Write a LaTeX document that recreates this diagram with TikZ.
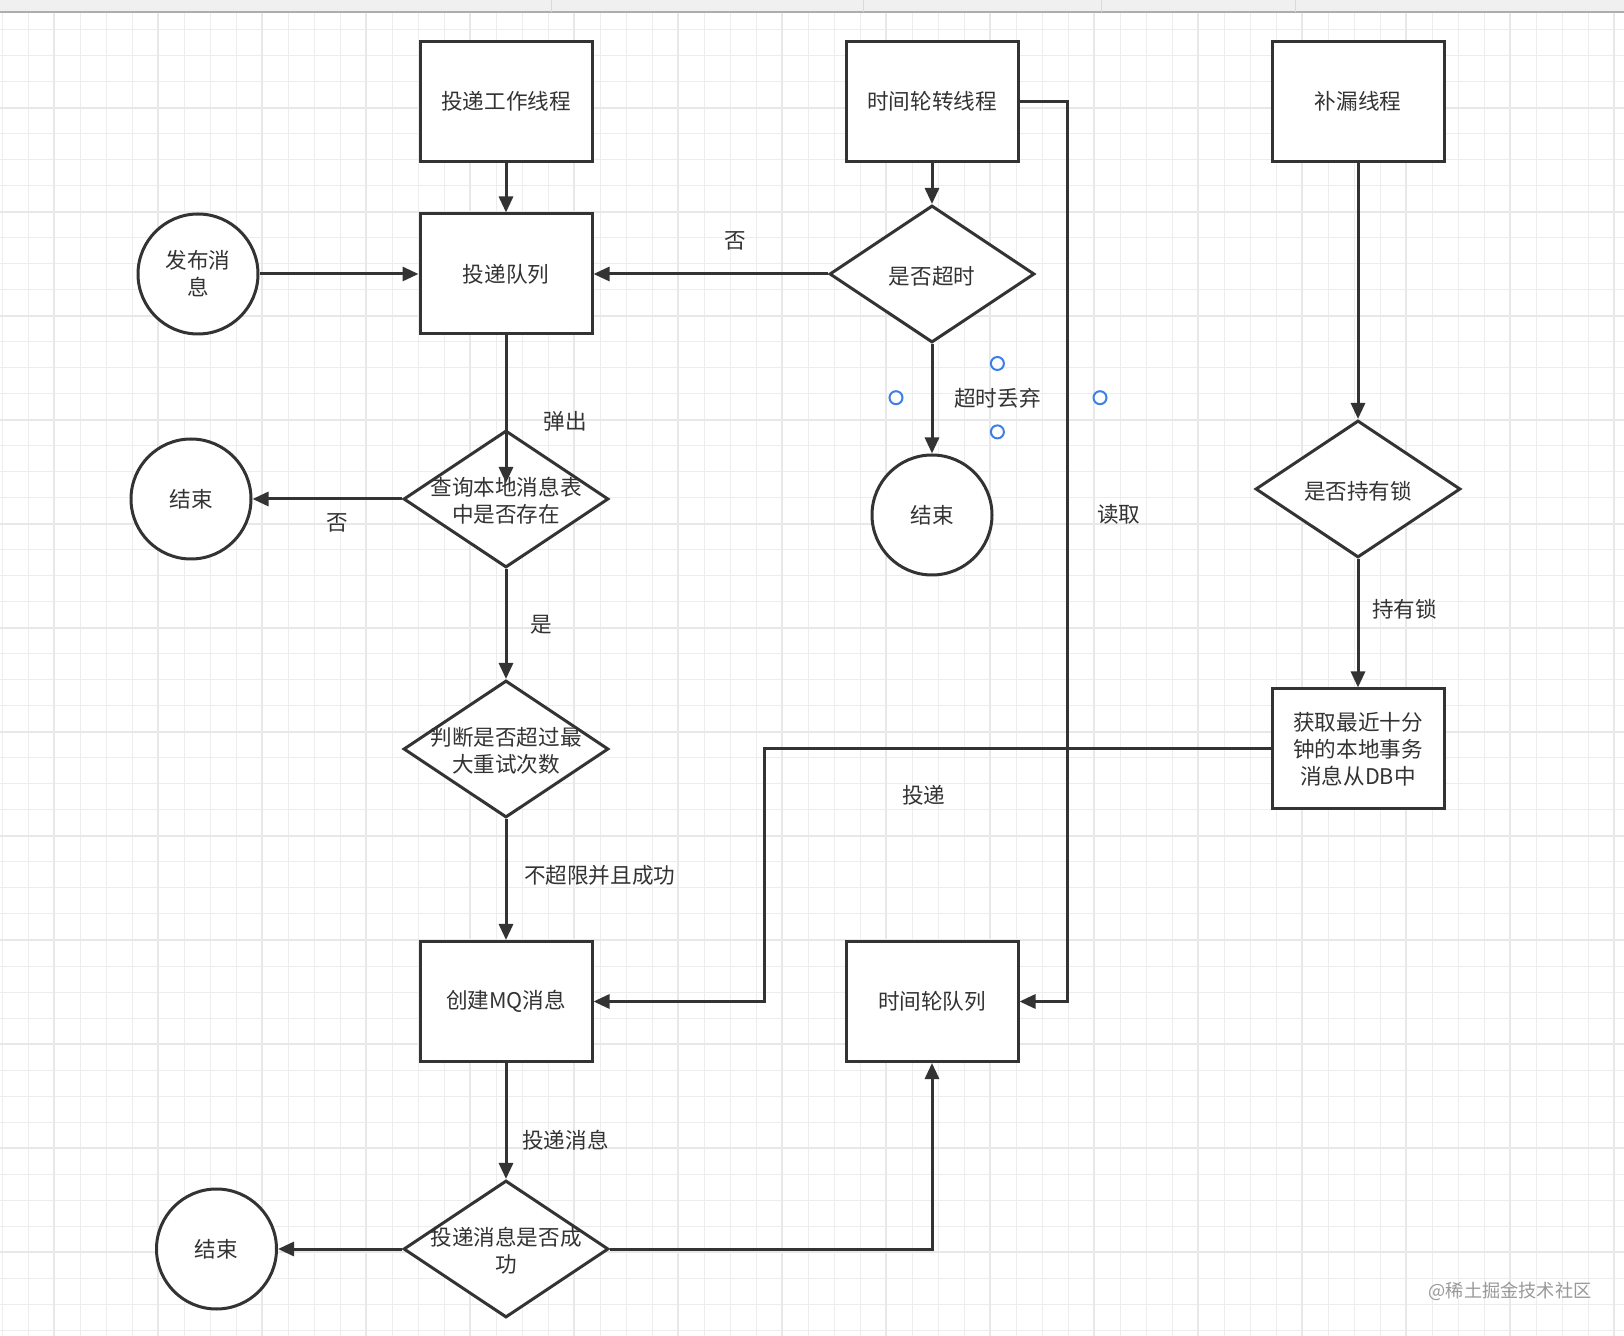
\documentclass[tikz,border=0pt]{standalone}
\usepackage{fontspec}
\setmainfont{Noto Sans CJK SC}
\usetikzlibrary{arrows.meta,shapes.geometric}
\definecolor{ink}{HTML}{333333}
\definecolor{handle}{HTML}{3D7FE3}
\begin{document}
\begin{tikzpicture}[x=0.5pt, y=-0.5pt, font=\fontsize{10.8pt}{13.5pt}\selectfont, text=ink,
  box/.style={draw=ink, line width=1.5pt, fill=white, minimum width=86pt, minimum height=60pt, inner sep=0pt, align=center},
  dia/.style={diamond, draw=ink, line width=1.5pt, fill=white, minimum width=102.5pt, minimum height=68.5pt, inner sep=0pt, label={[align=center, yshift=-1pt]center:#1}},
  endc/.style={circle, draw=ink, line width=1.5pt, fill=white, minimum size=60pt, inner sep=0pt, align=center},
  arr/.style={draw=ink, line width=1.5pt, -{Triangle[length=8pt,width=7pt]}},
  hnd/.style={circle, draw=handle, line width=1pt, fill=white, minimum size=6.5pt, inner sep=0pt}]

\fill[white] (0,0) rectangle (1624,1336);
\useasboundingbox (0,0) rectangle (1624,1336);
\begin{scope}
\clip (0,13) rectangle (1624,1336);
\draw[black!7, line width=0.5pt, xshift=1pt, yshift=-2pt, step=13pt] (-40,1400) grid (1680,-40);
\draw[black!9, line width=1pt, xshift=27pt, yshift=-2pt, step=52pt] (-120,1460) grid (1760,-120);
\end{scope}
\fill[black!6] (0,0) rectangle (1624,12);
\draw[black!32, line width=1pt] (0,12.5) -- (1624,12.5);
\foreach \sx in {551,863,1101,1295} \draw[black!15, line width=0.5pt] (\sx,0) -- (\sx,12);

\node[box] at (506,101.5) (work) {投递工作线程};
\node[box] at (932,101.5) (wheel) {时间轮转线程};
\node[box] at (1358,101.5) (patch) {补漏线程};
\node[endc] at (198,274) (pub) {发布消\\息};
\node[box] at (506,274) (queue) {投递队列};
\node[dia={是否超时}] at (932,274) (timeout) {};
\node[dia={查询本地消息表\\中是否存在}] at (506,499) (check) {};
\node[endc] at (191,499) (end1) {结束};
\node[endc] at (932,515) (end2) {结束};
\node[dia={是否持有锁}] at (1358,489) (lock) {};
\node[box] at (1358,749) (fetch) {获取最近十分\\钟的本地事务\\消息从DB中};
\node[dia={判断是否超过最\\大重试次数}] at (506,749) (retry) {};
\node[box] at (506,1001.5) (mq) {创建MQ消息};
\node[box] at (932,1001.5) (wq) {时间轮队列};
\node[dia={投递消息是否成\\功}] at (506,1249) (sent) {};
\node[endc] at (216.5,1249) (end3) {结束};

\coordinate (qtip) at (506,483);
\coordinate (rd) at (1067,101.5);
\coordinate (dv) at (764,749);

\draw[arr] (work) -- (queue);
\draw[arr] (pub) -- (queue);
\draw[arr] (wheel) -- (timeout);
\draw[arr] (timeout) -- (queue);
\draw[arr] (wheel.east) -- (rd) |- (wq.east);
\draw[arr] (queue) -- (qtip);
\draw[arr] (timeout) -- (end2);
\draw[arr] (check) -- (end1);
\draw[arr] (check) -- (retry);
\draw[arr] (retry) -- (mq);
\draw[arr] (patch) -- (lock);
\draw[arr] (lock) -- (fetch);
\draw[arr] (fetch.west) -- (dv) |- (mq.east);
\draw[arr] (mq) -- (sent);
\draw[arr] (sent) -- (end3);
\draw[arr] (sent.east) -| (wq.south);

\node (no1) at (735,241) {否};
\node (pop) at (565.5,421.5) {弹出};
\node (no2) at (337.6,523) {否};
\node (drop) at (997.4,398.7) {超时丢弃};
\node (read) at (1118.6,514.7) {读取};
\node (yes) at (541.7,624.5) {是};
\node (held) at (1404.4,609) {持有锁};
\node (send) at (923.8,795.4) {投递};
\node (pass) at (599.7,875.2) {不超限并且成功};
\node (post) at (565.5,1140.3) {投递消息};

\node[hnd] at (997.4,363.5) (h1) {};
\node[hnd] at (896,397.7) (h2) {};
\node[hnd] at (1100,397.7) (h3) {};
\node[hnd] at (997.4,431.9) (h4) {};

\node[text=black!40, font=\fontsize{9.1pt}{11pt}\selectfont] at (1510,1291.5) (mark) {@稀土掘金技术社区};
\end{tikzpicture}
\end{document}
